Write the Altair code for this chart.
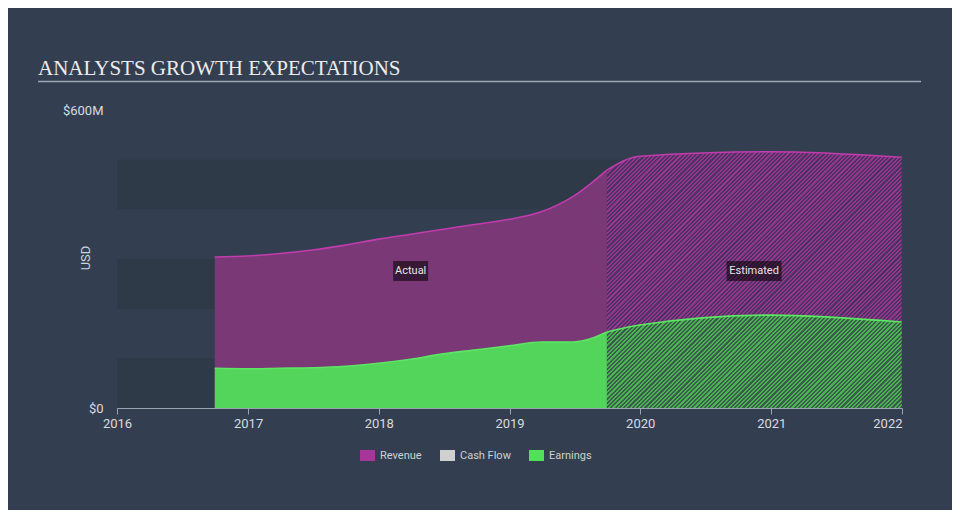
import altair as alt
import pandas as pd

# ---------------- data ----------------
TITLE = "ANALYSTS GROWTH EXPECTATIONS"
Y_TITLE = "USD"
PERIOD_LABELS = ["Actual", "Estimated"]
LEGEND_NAMES = ["Revenue", "Cash Flow", "Earnings"]
LEGEND_COLORS = ["#a8369a", "#d0d0d0", "#52e05a"]

actual_dates = ["2016-09-30", "2016-12-31", "2017-03-31", "2017-06-30", "2017-09-30",
                "2017-12-31", "2018-03-31", "2018-06-30", "2018-09-30", "2018-12-31",
                "2019-03-31", "2019-06-30", "2019-09-30"]
actual_revenue = [304, 306, 311, 318, 328, 340, 350, 360, 370, 380, 395, 427, 479]
actual_earnings = [80, 79, 80, 81, 84, 90, 98, 109, 117, 125, 133, 133, 153]

est_dates = ["2019-09-30", "2019-12-31", "2020-12-31", "2021-12-31"]
est_revenue = [479, 507, 516, 505]
est_earnings = [153, 167, 187, 173]

band_lo = [0, 200, 400]
band_hi = [100, 300, 500]
y_ticks = [0, 600]
x_years = [2016, 2017, 2018, 2019, 2020, 2021, 2022]
x_domain_years = [2016, 2022]

# ---------------- styles ----------------
PLOT_W, PLOT_H = 785, 298
BG = "#333f50"
BAND = "#2e3a48"
REV_FILL = "#7a3877"
REV_LINE = "#c23cae"
EARN_FILL = "#52d55a"
EARN_LINE = "#5ce663"
FONT = "Roboto"

actual_df = pd.DataFrame({"date": actual_dates, "revenue": actual_revenue, "earnings": actual_earnings})
est_df = pd.DataFrame({"date": est_dates, "revenue": est_revenue, "earnings": est_earnings})
band_df = pd.DataFrame({"lo": band_lo, "hi": band_hi})

def mid(dates):
    a, b = pd.Timestamp(dates[0]), pd.Timestamp(dates[-1])
    return (a + (b - a) / 2).strftime("%Y-%m-%d")

label_df = pd.DataFrame({"label": PERIOD_LABELS, "mid": [mid(actual_dates), mid(est_dates)]})

dom0 = pd.Timestamp(f"{x_domain_years[0]}-01-01")
dom1 = pd.Timestamp(f"{x_domain_years[1]}-01-01")
est_w = (pd.Timestamp(est_dates[-1]) - pd.Timestamp(est_dates[0])) / (dom1 - dom0) * PLOT_W


def hatch(c_light, c_dark, w, h, period=3.0):
    n = int(round((w + h) / (period * 2 ** 0.5)))
    stops = []
    for i in range(n):
        a, b, c = i / n, (i + 0.5) / n, (i + 1) / n
        stops += [alt.GradientStop(offset=a, color=c_light),
                  alt.GradientStop(offset=b, color=c_light),
                  alt.GradientStop(offset=b, color=c_dark),
                  alt.GradientStop(offset=c, color=c_dark)]
    k = (w + h) / (w * w + h * h)
    return alt.LinearGradient(gradient="linear", stops=stops, x1=0, y1=0, x2=w * k, y2=h * k)


rev_h = max(est_revenue) / y_ticks[-1] * PLOT_H
earn_h = max(est_earnings) / y_ticks[-1] * PLOT_H
rev_hatch = hatch("#95358d", "#4a3360", est_w, rev_h)
earn_hatch = hatch("#4bb352", "#395c4d", est_w, earn_h)

xscale = alt.Scale(type="utc", nice=False,
                   domain=[alt.DateTime(year=x_domain_years[0], month=1, date=1, utc=True),
                           alt.DateTime(year=x_domain_years[1], month=1, date=1, utc=True)])
xaxis = alt.Axis(title=None, grid=False, format="%Y",
                 values=[alt.DateTime(year=y, month=1, date=1, utc=True) for y in x_years],
                 domainColor="#9aa4b0", tickColor="#9aa4b0", tickSize=6, labelPadding=3,
                 labelFont=FONT, labelFontSize=13, labelColor="#d8dbe0", labelFlush=False,
                 labelAlign={"expr": "datum.index == 1 ? 'right' : 'center'"})
yscale = alt.Scale(domain=[y_ticks[0], y_ticks[-1]], nice=False)
yaxis = alt.Axis(title=None, grid=False, domain=False, ticks=False, tickSize=0, values=y_ticks,
                 labelPadding=14, labelFont=FONT, labelFontSize=13, labelColor="#d8dbe0",
                 labelExpr="datum.value == 0 ? '$0' : '$' + datum.value + 'M'")


def X(f):
    return alt.X(f, type="temporal", scale=xscale, axis=xaxis)


def Y(f):
    return alt.Y(f, type="quantitative", scale=yscale, axis=yaxis)


bands = alt.Chart(band_df).mark_rect(color=BAND).encode(
    x=alt.value(0), x2=alt.value(PLOT_W), y=Y("lo"), y2=alt.Y2("hi"))

rev_act = alt.Chart(actual_df).mark_area(
    color=REV_FILL, opacity=1, interpolate="monotone",
    line=alt.OverlayMarkDef(color=REV_LINE, strokeWidth=1.6)
).encode(x=X("date"), y=Y("revenue"))

rev_est = alt.Chart(est_df).mark_area(
    fill=rev_hatch, opacity=1, interpolate="monotone",
    line=alt.OverlayMarkDef(color=REV_LINE, strokeWidth=1.6)
).encode(x=X("date"), y=Y("revenue"))

earn_act = alt.Chart(actual_df).mark_area(
    color=EARN_FILL, opacity=1, interpolate="monotone",
    line=alt.OverlayMarkDef(color=EARN_LINE, strokeWidth=1.6)
).encode(x=X("date"), y=Y("earnings"))

earn_est = alt.Chart(est_df).mark_area(
    fill=earn_hatch, opacity=1, interpolate="monotone",
    line=alt.OverlayMarkDef(color=EARN_LINE, strokeWidth=1.6)
).encode(x=X("date"), y=Y("earnings"))

box_w = {"Actual": 35, "Estimated": 55}
boxes = []
for lab in PERIOD_LABELS:
    w = box_w[lab]
    boxes.append(
        alt.Chart(label_df).transform_filter(alt.datum.label == lab).mark_rect(
            color="#000000", opacity=0.55, xOffset=-w / 2, x2Offset=w / 2
        ).encode(x=X("mid"), x2=alt.X2("mid"), y=alt.value(151), y2=alt.value(171))
    )

period_text = alt.Chart(label_df).mark_text(
    font=FONT, fontSize=11, color="#e6e6e6", baseline="middle", align="center"
).encode(x=X("mid"), y=alt.value(161), text="label:N")

title_df = pd.DataFrame({"t": [TITLE]})
title = alt.Chart(title_df).mark_text(
    font="Liberation Serif", fontSize=21, color="#ececec", align="left", baseline="alphabetic"
).encode(x=alt.value(-79), y=alt.value(-35.5), text="t:N")

title_rule = alt.Chart(title_df).mark_rule(color="#9aa6b4", strokeWidth=1.6).encode(
    x=alt.value(-79), x2=alt.value(804), y=alt.value(-28.5))

ytitle = alt.Chart(pd.DataFrame({"t": [Y_TITLE]})).mark_text(
    font=FONT, fontSize=13, color="#d0d4da", angle=270, align="center", baseline="middle"
).encode(x=alt.value(-31), y=alt.value(148), text="t:N")

legend_layer = alt.Chart(pd.DataFrame({"series": LEGEND_NAMES})).mark_point(
    shape="square", filled=True, opacity=0
).encode(
    color=alt.Color("series:N", scale=alt.Scale(domain=LEGEND_NAMES, range=LEGEND_COLORS),
                    legend=alt.Legend(title=None, orient="none", legendX=245, legendY=340,
                                      direction="horizontal", labelFont=FONT, labelFontSize=11,
                                      labelColor="#d0d0d0", symbolSize=121,
                                      symbolType="M-1.36,-1H1.36V1H-1.36Z",
                                      symbolOpacity=1, symbolStrokeWidth=0,
                                      columnPadding=18, labelOffset=7))
)

chart = alt.layer(
    bands, rev_act, rev_est, earn_act, earn_est, *boxes, period_text,
    title, title_rule, ytitle, legend_layer
).properties(
    width=PLOT_W, height=PLOT_H,
    padding={"left": 109, "top": 102, "right": 50, "bottom": 102},
    autosize=alt.AutoSizeParams(type="none"),
).configure(background=BG).configure_view(strokeWidth=0)

chart.save("out.html", embed_options={"renderer": "svg", "actions": False})
